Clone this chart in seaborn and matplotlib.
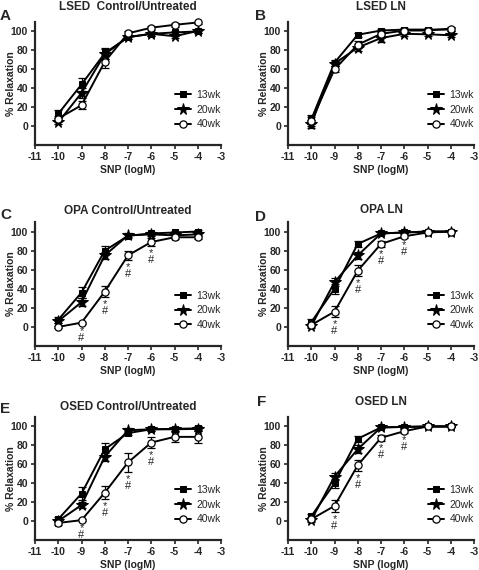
import matplotlib
matplotlib.use("Agg")
import matplotlib.pyplot as plt
import seaborn as sns
import pandas as pd
import numpy as np

sns.set_theme(style="ticks")
plt.rcParams['font.family'] = ['Liberation Sans', 'DejaVu Sans']

x_logM = [-10, -9, -8, -7, -6, -5, -4]
ages = ["13wk", "20wk", "40wk"]
x_ticks = [-11, -10, -9, -8, -7, -6, -5, -4, -3]
y_ticks = [0, 20, 40, 60, 80, 100]

titles = ["LSED  Control/Untreated", "LSED LN", "OPA Control/Untreated",
          "OPA LN", "OSED Control/Untreated", "OSED LN"]
letters = ["A", "B", "C", "D", "E", "F"]

# mean values per panel: 13wk, 20wk, 40wk
A_13 = [13, 44, 77, 94, 97.5, 99, 100]
A_20 = [4, 35, 76, 94, 97.5, 95, 100.5]
A_40 = [8, 22, 68, 98, 104, 107, 109.5]
B_13 = [7, 67, 96.5, 101, 102, 102, 102]
B_20 = [2, 66, 83, 93, 97.5, 97, 96]
B_40 = [5, 60, 86, 97.5, 101, 101, 103]
C_13 = [7.5, 36, 80, 95.5, 98, 99, 100]
C_20 = [6, 26, 75, 96, 97, 96, 97]
C_40 = [0, 4.5, 37, 75, 89, 94, 94]
D_13 = [5, 40, 87, 98, 99, 100, 100]
D_20 = [1, 47, 75, 98, 99, 100, 100]
D_40 = [2, 16, 59, 87, 95, 99, 100]
E_13 = [2, 29, 76, 93, 97, 97.5, 98]
E_20 = [0, 17, 68, 96, 97, 97, 97.5]
E_40 = [-2, 1, 30, 62, 83, 89, 89]
F_13 = [5, 40, 87, 99, 99.5, 100, 100]
F_20 = [1, 47, 76, 99, 99.5, 100, 100]
F_40 = [2, 16, 59, 88, 95, 100, 100]

# SEM per panel
A_13e = [4, 7, 6, 2, 2, 2, 2]
A_20e = [2, 5, 5, 2, 2, 2, 2]
A_40e = [3, 4, 7, 3, 2, 2, 2]
B_13e = [5, 3, 2, 2, 2, 2, 2]
B_20e = [4, 3, 4, 4, 2, 2, 2]
B_40e = [5, 3, 4, 3, 2, 2, 2]
C_13e = [3, 6, 5, 2, 2, 2, 2]
C_20e = [2, 4, 4, 2, 2, 2, 2]
C_40e = [1, 1, 6, 5, 4, 2, 2]
D_13e = [3, 5, 3, 1, 1, 1, 1]
D_20e = [2, 4, 4, 1, 1, 1, 1]
D_40e = [2, 6, 6, 3, 2, 1, 1]
E_13e = [2, 7, 6, 2, 2, 2, 2]
E_20e = [1, 3, 4, 2, 2, 2, 2]
E_40e = [2, 1, 7, 10, 6, 5, 6]
F_13e = [3, 5, 3, 1, 1, 1, 1]
F_20e = [2, 4, 4, 1, 1, 1, 1]
F_40e = [2, 6, 6, 3, 2, 1, 1]

# significance marks (40wk vs 13wk) at these doses
sig_A = []
sig_B = []
sig_C = [-9, -8, -7, -6]
sig_D = [-9, -8, -7, -6]
sig_E = [-9, -8, -7, -6]
sig_F = [-9, -8, -7, -6]

panels = [
    (A_13, A_20, A_40, A_13e, A_20e, A_40e, sig_A),
    (B_13, B_20, B_40, B_13e, B_20e, B_40e, sig_B),
    (C_13, C_20, C_40, C_13e, C_20e, C_40e, sig_C),
    (D_13, D_20, D_40, D_13e, D_20e, D_40e, sig_D),
    (E_13, E_20, E_40, E_13e, E_20e, E_40e, sig_E),
    (F_13, F_20, F_40, F_13e, F_20e, F_40e, sig_F),
]

styles = {
    "13wk": dict(marker="s", markersize=5, markerfacecolor="black", markeredgecolor="black"),
    "20wk": dict(marker="*", markersize=8.5, markerfacecolor="black", markeredgecolor="black"),
    "40wk": dict(marker="o", markersize=5.2, markerfacecolor="white", markeredgecolor="black", markeredgewidth=0.9),
}

# layout (pixels)
W, H = 479, 570
cols = [35, 288]
rows = [(22, 145), (222, 346), (417, 540)]
axw = 186
title_pads = [8.8, 8.8, 5.4, 6.8, 5.2, 8.7]            # points
ylabel_off = -24                                         # px from spine
letter_pos = [(0, 20), (255, 20), (0, 219), (255, 221), (0, 413), (257, 406)]

fig = plt.figure(figsize=(4.79, 5.70), dpi=100)

for i, (p, title, letter) in enumerate(zip(panels, titles, letters)):
    r, c = divmod(i, 2)
    top, bot = rows[r]
    ax = fig.add_axes([cols[c] / W, 1 - bot / H, axw / W, (bot - top) / H])
    means = p[0:3]
    errs = p[3:6]
    sig = p[6]
    for age, m, e in zip(ages, means, errs):
        df = pd.DataFrame({"x": x_logM, "y": m})
        ax.errorbar(x_logM, m, yerr=e, fmt="none", ecolor="black", elinewidth=0.9,
                    capsize=3, capthick=0.9, zorder=2)
        sns.lineplot(data=df, x="x", y="y", ax=ax, color="black", linewidth=1.4,
                     label=age, zorder=3, clip_on=False, **styles[age])
    m40 = dict(zip(x_logM, means[2]))
    e40 = dict(zip(x_logM, errs[2]))
    for xs in sig:
        yb = m40[xs] - e40[xs]
        ax.annotate("*", xy=(xs, yb), xytext=(0, -1.5), textcoords="offset points",
                    ha="center", va="top", fontsize=8)
        ax.annotate("#", xy=(xs, yb), xytext=(0, -6.5), textcoords="offset points",
                    ha="center", va="top", fontsize=8)
    ax.set_xlim(-11, -3)
    ax.set_ylim(-20, 110)
    ax.set_xticks(x_ticks)
    ax.set_yticks(y_ticks)
    ax.set_xticklabels([str(t) for t in x_ticks], fontweight="bold", fontsize=7.5)
    ax.set_yticklabels([str(t) for t in y_ticks], fontweight="bold", fontsize=7.5)
    ax.set_xlabel("SNP (logM)", fontweight="bold", fontsize=7.5, labelpad=2)
    ax.set_ylabel("% Relaxation", fontweight="bold", fontsize=7.5, va="center")
    ax.yaxis.set_label_coords(ylabel_off / axw, 0.5)
    ax.set_title(title, fontweight="bold", fontsize=8.5, pad=title_pads[i])
    for s in ["top", "right"]:
        ax.spines[s].set_visible(False)
    for s in ["left", "bottom"]:
        ax.spines[s].set_linewidth(1.6)
    ax.tick_params(axis="both", direction="out", length=3, width=1.2, pad=2)
    ax.legend(loc="center left", bbox_to_anchor=(0.755, 0.287), frameon=False,
              fontsize=7.5, handlelength=1.5, handletextpad=0.5, labelspacing=0.45,
              borderpad=0, borderaxespad=0)
    lx, ly = letter_pos[i]
    fig.text(lx / W, 1 - ly / H, letter, fontsize=11, fontweight="bold",
             ha="left", va="baseline")

fig.savefig("out.png", dpi=100)
